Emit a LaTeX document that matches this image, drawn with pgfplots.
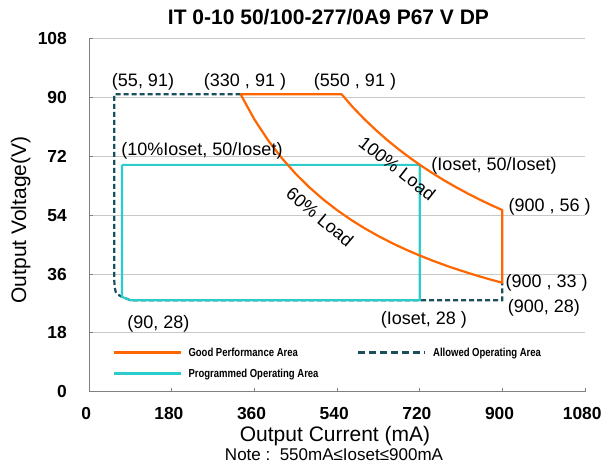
\documentclass[border=0pt]{standalone}
\usepackage{fontspec}
\setmainfont{Liberation Sans}
\newfontfamily\legfont[FakeStretch=0.82]{Liberation Sans}
\usepackage{pgfplots}
\pgfplotsset{compat=1.18}
\definecolor{gporange}{HTML}{FF6600}
\definecolor{pocyan}{HTML}{2CCCCC}
\definecolor{aodark}{HTML}{1B4F5C}
\definecolor{axgray}{HTML}{808080}
\definecolor{gridgray}{HTML}{C8C8C8}
\begin{document}
\begin{tikzpicture}
\path[use as bounding box] (0,0) rectangle (602pt,468pt);
\begin{axis}[
  at={(89pt,76.3pt)}, anchor=south west,
  width=496pt, height=353pt, scale only axis,
  xmin=0, xmax=1080, ymin=0, ymax=108,
  axis lines=left,
  axis line style={-, draw=axgray, line width=0.9pt},
  xtick={0,180,360,540,720,900,1080},
  xticklabels={0,180,360,540,720,900,1080},
  ytick={0,18,36,54,72,90,108},
  yticklabels={0,18,36,54,72,90,108},
  ymajorgrids,
  grid style={draw=gridgray, line width=0.9pt},
  tick align=inside, major tick length=4pt,
  tick style={draw=axgray, line width=0.9pt},
  xticklabel style={anchor=center, inner sep=0pt, yshift=-22pt, xshift=-2.8pt, font=\fontsize{17.4}{20}\selectfont\bfseries},
  yticklabel style={anchor=east, inner sep=0pt, xshift=-22pt, font=\fontsize{17.4}{20}\selectfont\bfseries},
  clip=false,
  legend columns=2,
  legend cell align=left,
  legend style={at={(axis cs:50.1,13.52)}, anchor=north west, draw=none, fill=none,
    inner sep=0pt, row sep=9pt,
    nodes={inner sep=0pt, text height=9pt, text depth=3pt, anchor=base west},
    font=\legfont\bfseries\fontsize{11.6}{13}\selectfont,
    /tikz/every odd column/.append style={column sep=6.7pt},
    /tikz/every even column/.append style={column sep=38.3pt}},
  legend image code/.code={\draw[#1] (0pt,4.15pt) -- (67pt,4.15pt);},
]
\addlegendimage{draw=gporange, line width=2.6pt}
\addlegendentry{Good Performance Area}
\addlegendimage{draw=aodark, line width=2.6pt, dash pattern=on 6.5pt off 4.5pt}
\addlegendentry{Allowed Operating Area}
\addlegendimage{draw=pocyan, line width=2.6pt}
\addlegendentry{Programmed Operating Area}

% Allowed Operating Area (dashed)
\addplot[forget plot, draw=aodark, line width=2.2pt, dash pattern=on 5pt off 3pt] coordinates {
(330,91) (55,91) (55,34) (56,32) (58,30.6) (62,29.8) (72,29) (90,28) (900,28) (900,33.33)
};
% Programmed Operating Area (cyan)
\addplot[forget plot, draw=pocyan, line width=2.2pt] coordinates {
(72,69.4) (720,69.4) (720,28) (90,28) (72,29) (72,69.4)
};
% Good Performance Area (orange)
\addplot[forget plot, draw=gporange, line width=2.2pt, line join=round] coordinates {
(330,91) (550,91) (575,86.96) (600,83.33) (625,80.00) (650,76.92) (675,74.07)
(700,71.43) (725,68.97) (750,66.67) (775,64.52) (800,62.50) (825,60.61)
(850,58.82) (875,57.14) (900,55.56)
(900,33.33) (870,34.48) (840,35.71) (810,37.04) (780,38.46) (750,40.00)
(720,41.67) (690,43.48) (660,45.45) (630,47.62) (600,50.00) (570,52.63)
(540,55.56) (510,58.82) (480,62.50) (450,66.67) (420,71.43) (390,76.92)
(360,83.33) (330,91)
};

\begin{scope}[every node/.style={inner sep=0pt, font=\fontsize{18}{21}\selectfont}]
\node at (axis cs:117.6,94.9) {(55, 91)};
\node at (axis cs:339.7,94.75) {(330 , 91 )};
\node at (axis cs:579.2,94.85) {(550 , 91 )};
\node at (axis cs:246,73.7) {(10\%Ioset, 50/Ioset)};
\node[rotate=-40] at (axis cs:503,53.5) {60\% Load};
\node[rotate=-38] at (axis cs:671.3,68.35) {100\% Load};
\node at (axis cs:881.9,69.05) {(Ioset, 50/Ioset)};
\node at (axis cs:1003.1,56.6) {(900 , 56 )};
\node at (axis cs:996.6,33.35) {(900 , 33 )};
\node at (axis cs:990.3,25.8) {(900, 28)};
\node at (axis cs:729.4,21.9) {(Ioset, 28 )};
\node at (axis cs:150.9,20.9) {(90, 28)};
\end{scope}
\end{axis}
\node[anchor=base, font=\fontsize{21}{24}\selectfont\bfseries] at (328.5pt,443pt) {IT 0-10 50/100-277/0A9 P67 V DP};
\node[anchor=base, font=\fontsize{21}{24}\selectfont] at (335pt,26.3pt) {Output Current (mA)};
\node[anchor=base, font=\fontsize{17}{20}\selectfont] at (334pt,7.3pt) {Note :\ \ 550mA≤Ioset≤900mA};
\node[anchor=base, rotate=90, font=\fontsize{21}{24}\selectfont] at (26pt,248pt) {Output Voltage(V)};
\end{tikzpicture}
\end{document}
